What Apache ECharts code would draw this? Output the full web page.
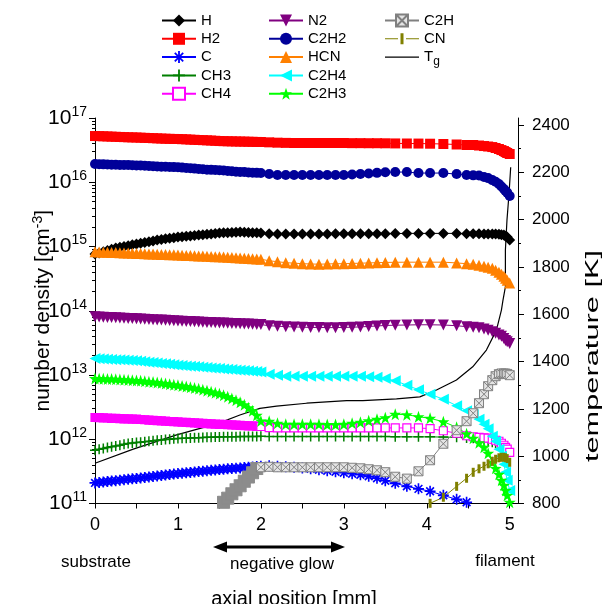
<!DOCTYPE html>
<html>
<head>
<meta charset="utf-8">
<script src="https://cdn.jsdelivr.net/npm/echarts@6/dist/echarts.min.js"></script>
<style>
html, body { margin: 0; padding: 0; background: #fff; }
#chart { width: 603px; height: 604px; }
</style>
</head>
<body>
<div id="chart"></div>
<script>
// axial positions of the simulation points [mm]
var xPos = [0,0.05,0.1,0.15,0.2,0.25,0.3,0.35,0.4,0.45,
  0.5,0.55,0.6,0.65,0.7,0.75,0.8,0.85,0.9,0.95,
  1,1.05,1.1,1.15,1.2,1.25,1.3,1.35,1.4,1.45,
  1.5,1.55,1.6,1.65,1.7,1.75,1.8,1.85,1.9,1.95,
  2,
  2.1,2.2,2.3,2.4,2.5,2.6,2.7,2.8,2.9,3,3.1,3.2,3.3,3.4,3.5,
  3.62,3.76,3.9,4.04,4.2,4.36,4.48,4.56,4.63,4.69,4.74,4.79,4.83,4.87,4.9,4.93,4.95,4.97,5];

// number densities [cm^-3]
var hVal = [7.61e14,7.95e14,8.30e14,8.66e14,9.05e14,9.45e14,9.72e14,1.0e15,1.03e15,1.06e15,
  1.09e15,1.12e15,1.153e15,1.187e15,1.22e15,1.259e15,1.287e15,1.315e15,1.344e15,1.373e15,
  1.40e15,1.42e15,1.44e15,1.46e15,1.48e15,1.505e15,1.53e15,1.55e15,1.57e15,1.59e15,
  1.617e15,1.63e15,1.64e15,1.65e15,1.66e15,1.676e15,1.66e15,1.65e15,1.64e15,1.63e15,
  1.617e15,
  1.58e15,1.57e15,1.56e15,1.56e15,1.56e15,1.56e15,1.57e15,1.57e15,1.58e15,1.58e15,1.58e15,1.58e15,1.58e15,1.58e15,1.58e15,
  1.59e15,1.60e15,1.60e15,1.60e15,1.60e15,1.60e15,1.58e15,1.58e15,1.58e15,1.57e15,1.56e15,1.56e15,1.56e15,1.55e15,1.53e15,1.505e15,1.45e15,1.40e15,1.26e15];
var h2Val = [5.24e16,5.22e16,5.19e16,5.16e16,5.13e16,5.10e16,5.07e16,5.04e16,5.01e16,4.99e16,
  4.97e16,4.94e16,4.91e16,4.88e16,4.85e16,4.82e16,4.79e16,4.76e16,4.74e16,4.72e16,
  4.71e16,4.68e16,4.65e16,4.61e16,4.58e16,4.55e16,4.52e16,4.49e16,4.46e16,4.42e16,
  4.38e16,4.36e16,4.34e16,4.33e16,4.31e16,4.30e16,4.29e16,4.27e16,4.26e16,4.24e16,
  4.23e16,
  4.18e16,4.13e16,4.10e16,4.08e16,4.08e16,4.08e16,4.08e16,4.08e16,4.08e16,4.08e16,4.06e16,4.06e16,4.05e16,4.05e16,4.04e16,
  4.02e16,4.01e16,4.00e16,3.98e16,3.94e16,3.87e16,3.80e16,3.80e16,3.73e16,3.66e16,3.60e16,3.53e16,3.41e16,3.29e16,3.17e16,3.06e16,2.95e16,2.85e16,2.75e16];
var cVal = [2.09e11,2.13e11,2.16e11,2.20e11,2.24e11,2.27e11,2.31e11,2.35e11,2.39e11,2.42e11,
  2.46e11,2.50e11,2.55e11,2.59e11,2.64e11,2.69e11,2.73e11,2.78e11,2.83e11,2.87e11,
  2.92e11,2.96e11,3.01e11,3.05e11,3.10e11,3.14e11,3.19e11,3.23e11,3.28e11,3.32e11,
  3.37e11,3.41e11,3.46e11,3.50e11,3.54e11,3.58e11,3.63e11,3.67e11,3.71e11,3.76e11,
  3.80e11,
  3.86e11,3.80e11,3.73e11,3.66e11,3.57e11,3.47e11,3.35e11,3.23e11,3.12e11,3.01e11,2.90e11,2.80e11,2.65e11,2.47e11,2.26e11,
  2.06e11,1.85e11,1.69e11,1.55e11,1.34e11,1.16e11,1.045e11,9.4e10,null,null,null,null,null,null,null,null,null,null,null];
var ch3Val = [6.74e11,6.97e11,7.2e11,7.43e11,7.66e11,7.88e11,8.1e11,8.33e11,8.55e11,8.72e11,
  8.87e11,9.02e11,9.17e11,9.33e11,9.48e11,9.64e11,9.76e11,9.88e11,1.0e12,1.015e12,
  1.025e12,1.032e12,1.04e12,1.046e12,1.052e12,1.058e12,1.064e12,1.07e12,1.076e12,1.082e12,
  1.086e12,1.089e12,1.091e12,1.094e12,1.096e12,1.099e12,1.101e12,1.103e12,1.105e12,1.108e12,
  1.11e12,
  1.1e12,1.1e12,1.1e12,1.1e12,1.1e12,1.1e12,1.1e12,1.1e12,1.1e12,1.1e12,1.1e12,1.1e12,1.1e12,1.1e12,1.1e12,
  1.09e12,1.09e12,1.09e12,1.09e12,1.08e12,1.07e12,1.05e12,1.04e12,1.0e12,9.64e11,9.3e11,8.97e11,8.66e11,null,null,null,null,null,null];
var ch4Val = [2.18e12,2.17e12,2.15e12,2.14e12,2.12e12,2.11e12,2.10e12,2.08e12,2.07e12,2.06e12,
  2.05e12,2.03e12,2.01e12,1.99e12,1.97e12,1.95e12,1.93e12,1.91e12,1.89e12,1.88e12,
  1.86e12,1.84e12,1.83e12,1.81e12,1.80e12,1.78e12,1.77e12,1.75e12,1.74e12,1.72e12,
  1.71e12,1.70e12,1.68e12,1.67e12,1.66e12,1.64e12,1.63e12,1.62e12,1.61e12,1.59e12,
  1.58e12,
  1.52e12,1.50e12,1.50e12,1.50e12,1.50e12,1.50e12,1.50e12,1.50e12,1.50e12,1.50e12,1.50e12,1.50e12,1.50e12,1.50e12,1.50e12,
  1.50e12,1.50e12,1.50e12,1.46e12,1.357e12,1.24e12,1.134e12,1.094e12,1.07e12,1.05e12,1.04e12,1.00e12,9.64e11,9.3e11,8.66e11,8.06e11,7.5e11,7.0e11,6.27e11];
var n2Val = [8.04e13,7.98e13,7.93e13,7.87e13,7.82e13,7.76e13,7.71e13,7.65e13,7.60e13,7.55e13,
  7.49e13,7.43e13,7.38e13,7.32e13,7.27e13,7.21e13,7.16e13,7.10e13,7.04e13,6.99e13,
  6.93e13,6.88e13,6.83e13,6.78e13,6.73e13,6.69e13,6.64e13,6.59e13,6.55e13,6.50e13,
  6.46e13,6.42e13,6.38e13,6.35e13,6.31e13,6.27e13,6.24e13,6.20e13,6.16e13,6.13e13,
  6.09e13,
  5.85e13,5.75e13,5.65e13,5.60e13,5.55e13,5.50e13,5.50e13,5.46e13,5.46e13,5.50e13,5.55e13,5.60e13,5.70e13,5.80e13,5.90e13,
  5.96e13,6.00e13,6.05e13,6.05e13,6.00e13,5.85e13,5.65e13,5.55e13,5.46e13,5.20e13,4.97e13,4.70e13,4.47e13,4.20e13,4.02e13,3.70e13,3.45e13,3.30e13,3.10e13];
var c2h2Val = [1.92e16,1.91e16,1.90e16,1.89e16,1.88e16,1.87e16,1.86e16,1.86e16,1.85e16,1.84e16,
  1.83e16,1.82e16,1.81e16,1.79e16,1.78e16,1.76e16,1.75e16,1.74e16,1.73e16,1.72e16,
  1.71e16,1.69e16,1.67e16,1.65e16,1.63e16,1.61e16,1.59e16,1.57e16,1.56e16,1.55e16,
  1.54e16,1.52e16,1.50e16,1.48e16,1.46e16,1.45e16,1.44e16,1.42e16,1.41e16,1.40e16,
  1.39e16,
  1.34e16,1.30e16,1.30e16,1.30e16,1.30e16,1.30e16,1.30e16,1.30e16,1.30e16,1.30e16,1.32e16,1.34e16,1.37e16,1.40e16,1.43e16,
  1.44e16,1.44e16,1.39e16,1.39e16,1.39e16,1.34e16,1.30e16,1.28e16,1.27e16,1.21e16,1.16e16,1.08e16,1.02e16,9.4e15,8.6e15,7.85e15,7.3e15,6.9e15,6.1e15];
var hcnVal = [8.27e14,8.22e14,8.17e14,8.13e14,8.08e14,8.03e14,7.99e14,7.94e14,7.90e14,7.85e14,
  7.81e14,7.76e14,7.72e14,7.67e14,7.63e14,7.58e14,7.54e14,7.50e14,7.45e14,7.41e14,
  7.36e14,7.31e14,7.27e14,7.22e14,7.18e14,7.13e14,7.09e14,7.04e14,7.00e14,6.95e14,
  6.91e14,6.85e14,6.79e14,6.74e14,6.68e14,6.62e14,6.56e14,6.51e14,6.45e14,6.40e14,
  6.34e14,
  6.0e14,5.8e14,5.6e14,5.5e14,5.4e14,5.35e14,5.3e14,5.35e14,5.4e14,5.4e14,5.45e14,5.5e14,5.55e14,5.6e14,5.65e14,
  5.68e14,5.7e14,5.7e14,5.7e14,5.7e14,5.55e14,5.4e14,5.29e14,5.1e14,4.92e14,4.75e14,4.58e14,4.26e14,3.97e14,3.69e14,3.44e14,3.2e14,2.98e14,2.71e14];
var c2h4Val = [1.81e13,1.795e13,1.78e13,1.765e13,1.75e13,1.735e13,1.72e13,1.705e13,1.69e13,1.675e13,
  1.66e13,1.635e13,1.61e13,1.585e13,1.56e13,1.535e13,1.51e13,1.49e13,1.465e13,1.44e13,
  1.42e13,1.40e13,1.385e13,1.37e13,1.355e13,1.34e13,1.325e13,1.31e13,1.29e13,1.275e13,
  1.26e13,1.245e13,1.23e13,1.215e13,1.2e13,1.185e13,1.17e13,1.16e13,1.145e13,1.13e13,
  1.117e13,
  1.03e13,9.9e12,9.58e12,9.58e12,9.58e12,9.58e12,9.58e12,9.58e12,9.58e12,9.58e12,9.58e12,9.58e12,9.4e12,9.25e12,8.8e12,
  8.15e12,6.94e12,5.9e12,5.02e12,4.2e12,3.33e12,2.78e12,2.41e12,2.05e12,1.71e12,1.46e12,1.11e12,9.3e11,6.99e11,5.43e11,4.08e11,3.06e11,2.3e11,1.6e11];
var c2h3Val = [8.82e12,8.78e12,8.73e12,8.69e12,8.64e12,8.60e12,8.53e12,8.46e12,8.38e12,8.31e12,
  8.24e12,8.12e12,8.00e12,7.88e12,7.76e12,7.64e12,7.49e12,7.35e12,7.21e12,7.07e12,
  6.94e12,6.77e12,6.60e12,6.44e12,6.28e12,6.12e12,5.91e12,5.71e12,5.50e12,5.30e12,
  5.11e12,4.85e12,4.59e12,4.32e12,4.05e12,3.75e12,3.45e12,3.10e12,2.78e12,2.37e12,
  1.93e12,
  1.91e12,1.775e12,1.71e12,1.71e12,1.71e12,1.71e12,1.71e12,1.69e12,1.69e12,1.71e12,1.775e12,1.84e12,1.94e12,2.05e12,2.16e12,
  2.45e12,2.41e12,2.24e12,2.12e12,1.875e12,1.54e12,1.22e12,1.04e12,8.82e11,7.5e11,6.05e11,4.38e11,3.53e11,2.85e11,2.3e11,1.92e11,1.6e11,1.34e11,1.045e11];

// C2H and CN only exist on part of the range
var c2hX = [1.5,1.55,1.6,1.65,1.7,1.75,1.8,1.85,1.9,1.95,2,
  2.1,2.2,2.3,2.4,2.5,2.6,2.7,2.8,2.9,3,3.1,3.2,3.3,3.4,3.5,
  3.62,3.76,3.9,4.04,4.2,4.36,4.48,4.56,4.63,4.69,4.74,4.79,4.83,4.87,4.9,4.93,4.95,4.97,5];
var c2hVal = [9.04e10,1.045e11,1.21e11,1.416e11,1.635e11,1.887e11,2.22e11,2.58e11,3.01e11,3.5e11,3.66e11,
  3.73e11,3.66e11,3.66e11,3.66e11,3.66e11,3.66e11,3.66e11,3.66e11,3.66e11,3.66e11,3.6e11,3.53e11,3.41e11,3.29e11,3.07e11,
  2.61e11,2.44e11,3.17e11,4.71e11,8.51e11,1.38e12,1.91e12,2.54e12,3.64e12,5.02e12,6.69e12,8.3e12,9.58e12,1.03e13,1.056e13,1.056e13,1.05e13,1.04e13,9.93e12];
var cnX = [4.04,4.2,4.36,4.48,4.56,4.63,4.69,4.74,4.79,4.83,4.87,4.9,4.93,4.95,4.97,5];
var cnVal = [1.007e11,1.25e11,1.85e11,2.47e11,3.06e11,3.47e11,3.8e11,4.15e11,4.54e11,4.88e11,5.15e11,5.24e11,5.24e11,5.15e11,5.0e11,4.38e11];

// gas temperature [K]
var tgX = [0,0.461,0.984,1.486,1.747,1.988,2.189,2.551,3.033,3.229,3.635,3.916,4.117,4.358,4.554,4.719,4.84,4.9,4.919,4.948,4.948,4.967,4.992,5.012];
var tgVal = [970,1030,1090,1139,1174,1202,1212,1224,1235,1235,1242,1251,1280,1322,1378,1449,1533,1618,1660,1716,1872,1998,2111,2222];

// axis ticks
var densityTicks = [1e11,1e12,1e13,1e14,1e15,1e16,1e17];
var tempTicks = [800,1000,1200,1400,1600,1800,2000,2200,2400];
var tempMinorTicks = [900,1100,1300,1500,1700,1900,2100,2300];
var posLabels = [0,1,2,3,4,5];

var FONT = 'Arial, "Liberation Sans", sans-serif';

var densityMinorTicks = [];
for (var e = 11; e < 17; e++) {
    for (var m = 2; m <= 9; m++) {
        densityMinorTicks.push(m * Math.pow(10, e));
    }
}

// dense part of the profile (x < 2) is drawn filled, like the overlapping markers in the original
var pairs = function(xs, vals, denseStyle, denseSize){
    var out = [];
    for (var i = 0; i < xs.length; i++) {
        if (vals[i] === null) continue;
        if (denseStyle && xs[i] < 1.99) {
            var item = {value: [xs[i], vals[i]], itemStyle: denseStyle};
            if (denseSize) item.symbolSize = denseSize;
            out.push(item);
        } else {
            out.push([xs[i], vals[i]]);
        }
    }
    return out;
};

//符号
var asteriskPath = 'path://M8.5,0h3v20h-3z M0,8.5h20v3h-20z M4.06,1.94L18.06,15.94L15.94,18.06L1.94,4.06z M15.94,1.94L18.06,4.06L4.06,18.06L1.94,15.94z';
var plusPath = 'path://M8.5,0h3v20h-3z M0,8.5h20v3h-20z';
var starPath = 'path://M10,0L12.35,6.76L19.51,6.91L13.8,11.24L15.88,18.09L10,14L4.12,18.09L6.2,11.24L0.49,6.91L7.65,6.76Z';
var squarePath = 'path://M0,0H20V20H0Z';
var crossSquarePath = 'path://M0,0H20V20H0Z M0,0L20,20 M20,0L0,20';
var barPath = 'path://M0,0H3V9H0Z';
//图例图标
var tgIcon = 'path://M0,0H34V1.2H0Z';
var cnIcon = 'path://M0,7H13V8H0Z M15.5,2H18.5V13H15.5Z M21,7H34V8H21Z';

var mkSeries = function(name, data, symbol, size, color, extra){
    var s = {
        name: name,
        type: 'line',
        data: data,
        symbol: symbol,
        symbolSize: size,
        showSymbol: true,
        clip: true,
        animation: false,
        itemStyle: {color: color},
        lineStyle: {color: color, width: 1},
        emphasis: {disabled: true}
    };
    for (var k in extra) s[k] = extra[k];
    return s;
};

var legendAt = function(left, names){
    return {
        data: names,
        orient: 'vertical',
        left: left,
        top: 13,
        padding: 0,
        itemWidth: 34,
        itemHeight: 15,
        itemGap: 3.3,
        selectedMode: false,
        formatter: function(n){ return n === 'Tg' ? '{t|T}{g|g}' : n; },
        textStyle: {
            fontSize: 15, color: '#000', fontFamily: FONT, lineHeight: 15,
            rich: {
                t: {fontSize: 15, fontFamily: FONT, color: '#000'},
                g: {fontSize: 12, fontFamily: FONT, color: '#000', padding: [9, 0, 0, 0]}
            }
        }
    };
};

var chart = echarts.init(document.getElementById('chart'));
chart.setOption({
    backgroundColor: '#fff',
    animation: false,
    legend: [
        legendAt(161, ['H', 'H2', 'C', 'CH3', 'CH4']),
        legendAt(268, ['N2', 'C2H2', 'HCN', 'C2H4', 'C2H3']),
        legendAt(384, ['C2H', {name: 'CN', icon: cnIcon}, {name: 'Tg', icon: tgIcon}])
    ],
    grid: {left: 95, right: 85, top: 118, bottom: 100.5, outerBoundsMode: 'none'},
    xAxis: {
        type: 'value', min: 0, max: 5.1, interval: 0.5,
        axisLine: {lineStyle: {color: '#000', width: 1}},
        axisTick: {show: true, length: 5, lineStyle: {color: '#000'}},
        axisLabel: {
            margin: 13, fontSize: 18, color: '#000', fontFamily: FONT, showMaxLabel: false,
            formatter: function(v){ return posLabels.indexOf(v) >= 0 ? String(v) : ''; }
        },
        splitLine: {show: false}
    },
    yAxis: [
        {
            type: 'log', logBase: 10, min: 1e11, max: 1e17, splitNumber: 6, position: 'left',
            name: '{a|number density [cm}{s|-3}{a|]}',
            nameLocation: 'middle', nameRotate: 90, nameGap: 40, nameMoveOverlap: false,
            nameTextStyle: {
                rich: {
                    a: {fontSize: 21, fontFamily: FONT, color: '#000'},
                    s: {fontSize: 14, fontFamily: FONT, color: '#000', padding: [0, 0, 10, 0]}
                }
            },
            axisLine: {show: true, lineStyle: {color: '#000', width: 1}},
            axisTick: {show: true, length: 6, customValues: densityTicks, lineStyle: {color: '#000'}},
            axisLabel: {
                margin: 8, customValues: densityTicks,
                formatter: function(v){ return '{b|10}{s|' + Math.round(Math.log10(v)) + '}'; },
                rich: {
                    b: {fontSize: 21, fontFamily: FONT, color: '#000'},
                    s: {fontSize: 14, fontFamily: FONT, color: '#000', padding: [0, 0, 12, 0]}
                }
            },
            splitLine: {show: false}
        },
        {
            type: 'value', min: 800, max: 2430, interval: 200, position: 'right',
            axisLine: {show: true, lineStyle: {color: '#000', width: 1}},
            axisTick: {show: true, length: 6, customValues: tempTicks, lineStyle: {color: '#000'}},
            axisLabel: {
                margin: 14, fontSize: 17, color: '#000', fontFamily: FONT, customValues: tempTicks,
                formatter: function(v){ return String(v); }
            },
            splitLine: {show: false}
        },
        {
            type: 'log', logBase: 10, min: 1e11, max: 1e17, position: 'left',
            axisLine: {show: false},
            axisTick: {show: true, length: 3, customValues: densityMinorTicks, lineStyle: {color: '#000'}},
            axisLabel: {show: false},
            splitLine: {show: false}
        },
        {
            type: 'value', min: 800, max: 2430, position: 'right',
            axisLine: {show: false},
            axisTick: {show: true, length: 3, customValues: tempMinorTicks, lineStyle: {color: '#000'}},
            axisLabel: {show: false},
            splitLine: {show: false}
        }
    ],
    graphic: [
        {type: 'text', x: 593, y: 356, rotation: Math.PI / 2, scaleX: 1.62,
         style: {text: 'temperature [K]', fontSize: 19, fontFamily: FONT, fill: '#000', textAlign: 'center', textVerticalAlign: 'middle'}},
        {type: 'text', x: 96, y: 562,
         style: {text: 'substrate', fontSize: 17, fontFamily: FONT, fill: '#000', textAlign: 'center', textVerticalAlign: 'middle'}},
        {type: 'text', x: 282, y: 564,
         style: {text: 'negative glow', fontSize: 17, fontFamily: FONT, fill: '#000', textAlign: 'center', textVerticalAlign: 'middle'}},
        {type: 'text', x: 505, y: 561,
         style: {text: 'filament', fontSize: 17, fontFamily: FONT, fill: '#000', textAlign: 'center', textVerticalAlign: 'middle'}},
        {type: 'text', x: 294, y: 599,
         style: {text: 'axial position [mm]', fontSize: 20, fontFamily: FONT, fill: '#000', textAlign: 'center', textVerticalAlign: 'middle'}},
        {type: 'line', shape: {x1: 224, y1: 547, x2: 334, y2: 547}, style: {stroke: '#000', lineWidth: 3}},
        {type: 'polygon', shape: {points: [[213, 547], [227, 541.5], [227, 552.5]]}, style: {fill: '#000'}},
        {type: 'polygon', shape: {points: [[345, 547], [331, 541.5], [331, 552.5]]}, style: {fill: '#000'}}
    ],
    series: [
        mkSeries('H', pairs(xPos, hVal), 'diamond', 11, '#000000'),
        mkSeries('H2', pairs(xPos, h2Val), 'rect', 10, '#ff0000'),
        mkSeries('C', pairs(xPos, cVal), asteriskPath, 11, '#0000ff'),
        mkSeries('CH3', pairs(xPos, ch3Val), plusPath, 10, '#007f00'),
        mkSeries('CH4', pairs(xPos, ch4Val, {color: '#ff00ff'}), squarePath, 8, '#ff00ff',
            {itemStyle: {color: '#ffffff', borderColor: '#ff00ff', borderWidth: 1.2}}),
        mkSeries('N2', pairs(xPos, n2Val), 'triangle', 11, '#800080', {symbolRotate: 180}),
        mkSeries('C2H2', pairs(xPos, c2h2Val), 'circle', 10, '#000099'),
        mkSeries('HCN', pairs(xPos, hcnVal), 'triangle', 11, '#ff8000'),
        mkSeries('C2H4', pairs(xPos, c2h4Val), 'triangle', 11, '#00ffff', {symbolRotate: 90}),
        mkSeries('C2H3', pairs(xPos, c2h3Val), starPath, 12, '#00ff00'),
        mkSeries('C2H', pairs(c2hX, c2hVal, {color: '#8c8c8c', borderColor: '#8c8c8c'}, 12), crossSquarePath, 9, '#808080',
            {itemStyle: {color: '#e4e4e4', borderColor: '#808080', borderWidth: 1}}),
        mkSeries('CN', pairs(cnX, cnVal), barPath, [3, 9], '#808000'),
        {
            name: 'Tg', type: 'line', yAxisIndex: 1, data: pairs(tgX, tgVal),
            symbol: 'none', clip: true, animation: false,
            itemStyle: {color: '#000'},
            lineStyle: {color: '#000', width: 1.2},
            emphasis: {disabled: true}
        }
    ]
});
</script>
</body>
</html>
